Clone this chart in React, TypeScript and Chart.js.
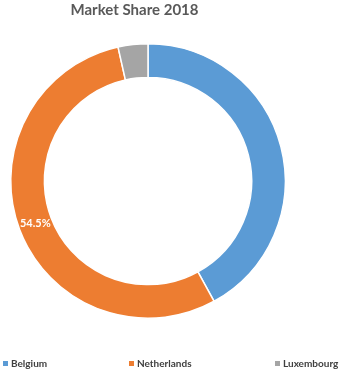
import React, { useEffect, useRef } from "react";
import { Chart, registerables } from "chart.js";

Chart.register(...registerables);

const categories = ["Belgium", "Netherlands", "Luxembourg"];
const shares = [42.0, 54.5, 3.5];
const colors = ["#5B9BD5", "#ED7D31", "#A5A5A5"];
const shownLabels = ["", "54.5%", ""];
const titleText = "Market Share 2018";
const legendX = [3, 129, 275];

const FONT = "Lato, 'Open Sans', sans-serif";

const overlay = {
  id: "overlay",
  afterDraw(chart: any) {
    const ctx = chart.ctx;
    ctx.save();
    // title
    ctx.fillStyle = "#595959";
    ctx.font = `bold 15px ${FONT}`;
    ctx.textAlign = "center";
    ctx.textBaseline = "middle";
    ctx.fillText(titleText, 134.5, 10.5);
    // data labels
    const meta = chart.getDatasetMeta(0);
    meta.data.forEach((arc: any, i: number) => {
      const txt = shownLabels[i];
      if (!txt) return;
      const p = arc.tooltipPosition();
      ctx.fillStyle = "#FFFFFF";
      ctx.font = `bold 11px ${FONT}`;
      ctx.fillText(txt, p.x, p.y);
    });
    // legend
    ctx.textAlign = "left";
    ctx.font = `bold 10px ${FONT}`;
    categories.forEach((c, i) => {
      const x = legendX[i];
      ctx.fillStyle = colors[i];
      ctx.fillRect(x, 361, 5, 5);
      ctx.fillStyle = "#404040";
      ctx.fillText(c, x + 8, 364);
    });
    ctx.restore();
  },
};

export default function App() {
  const ref = useRef<HTMLCanvasElement>(null);
  useEffect(() => {
    document.body.style.margin = "0";
    const chart = new Chart(ref.current!, {
      type: "doughnut",
      data: {
        labels: categories,
        datasets: [
          {
            data: shares,
            backgroundColor: colors,
            borderColor: "#FFFFFF",
            borderWidth: 1.5,
            hoverOffset: 0,
          },
        ],
      },
      options: {
        animation: false,
        responsive: false,
        cutout: "75.5%",
        layout: { padding: { left: 10, right: 53, top: 43, bottom: 52 } },
        plugins: {
          legend: { display: false },
          title: { display: false },
          tooltip: { enabled: false },
        },
      },
      plugins: [overlay],
    });
    return () => chart.destroy();
  }, []);
  return (
    <div style={{ width: 339, height: 371, background: "#FFFFFF" }}>
      <canvas ref={ref} width={339} height={371} />
    </div>
  );
}
